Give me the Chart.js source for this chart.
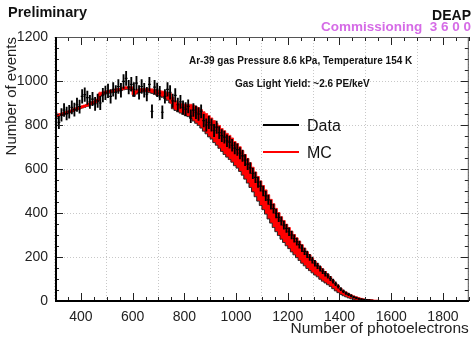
<!DOCTYPE html>
<html lang="en">
<head>
<meta charset="utf-8">
<title>Ar-39 gas photoelectron spectrum</title>
<script src="https://cdn.jsdelivr.net/npm/chart.js"></script>
<style>
    body { margin: 0; background: #fff; }
    #wrap { position: relative; width: 474px; height: 338px; font-family: "Liberation Sans", Arial, sans-serif; }
    .txt { position: absolute; white-space: nowrap; line-height: 1; }
    .key { position: absolute; height: 2px; width: 36px; }
</style>
</head>
<body>
<div id="wrap">
    <canvas id="spec" width="474" height="338"></canvas>
    <div class="txt" style="left:8px; top:5px; font-size:14.5px; font-weight:bold; color:#111;">Preliminary</div>
    <div class="txt" style="right:3px; top:8px; font-size:14px; font-weight:bold; color:#111;">DEAP</div>
    <div class="txt" style="right:3px; top:20px; font-size:13.5px; font-weight:bold; color:#d56be6;">Commissioning&nbsp; 3 6 0 0</div>
    <div class="txt" style="left:189px; top:56px; font-size:10px; font-weight:bold; color:#111;">Ar-39 gas Pressure 8.6 kPa, Temperature 154 K</div>
    <div class="txt" style="left:235px; top:79px; font-size:10px; font-weight:bold; color:#111;">Gas Light Yield: ~2.6 PE/keV</div>
    <div class="key" style="left:263px; top:124px; background:#000;"></div>
    <div class="txt" style="left:307px; top:118px; font-size:16px; color:#111;">Data</div>
    <div class="key" style="left:263px; top:151px; background:#f00;"></div>
    <div class="txt" style="left:307px; top:145px; font-size:16px; color:#111;">MC</div>
</div>
<script>
    // 10 PE bins starting at 300 PE
    const binStart = 300;
    const binWidth = 10;

    // measured counts per bin, 300 .. 1900 PE
    const dataCounts = [
        830, 812, 846, 868, 852, 860, 880, 870, 892, 884,
        930, 938, 924, 905, 918, 896, 910, 900, 936, 946,
        955, 930, 962, 948, 975, 958, 998, 1012, 972, 985,
        962, 990, 948, 975, 958, 940, 985, 862, 972, 960,
        945, 858, 930, 962, 948, 910, 935, 892, 905, 880,
        872, 885, 840, 868, 858, 850, 862, 820, 800, 812,
        800, 775, 790, 765, 752, 745, 728, 722, 708, 695,
        688, 672, 660, 640, 622, 605, 580, 562, 540, 522,
        500, 478, 460, 438, 420, 398, 380, 364, 345, 330,
        315, 300, 284, 270, 256, 240, 226, 212, 198, 186,
        172, 160, 148, 136, 124, 114, 102, 90, 78, 66,
        54, 44, 36, 30, 24, 18, 14, 10, 8, 6,
        5, 4, 3, 2, 2, 1, 1, 1, 0, 1,
        0, 1, 0, 0, 1, 0, 0, 0, 1, 0,
        0, 0, 1, 0, 0, 0, 0, 1, 0, 0,
        0, 0, 0, 1, 0, 0, 0, 0, 0, 0
    ];

    // simulated spectrum, same binning, 300 .. 1570 PE
    const mcCounts = [
        842, 846, 848, 852, 856, 860, 864, 870, 874, 878,
        882, 886, 890, 895, 900, 905, 912, 940, 944, 948,
        950, 952, 955, 958, 960, 962, 966, 968, 968, 966,
        942, 950, 956, 958, 958, 958, 956, 954, 950, 946,
        944, 940, 936, 930, 922, 900, 888, 880, 876, 872,
        868, 866, 862, 854, 846, 838, 828, 816, 806, 794,
        784, 770, 758, 746, 732, 720, 708, 698, 686, 670,
        660, 645, 628, 610, 592, 572, 552, 530, 510, 490,
        470, 450, 428, 408, 388, 368, 350, 332, 316, 300,
        286, 270, 256, 242, 228, 214, 200, 186, 174, 162,
        150, 140, 128, 118, 108, 98, 88, 76, 64, 54,
        44, 36, 30, 24, 19, 15, 12, 9, 7, 5,
        4, 3, 2, 1, 1, 0, 0
    ];

    // systematic half-width of the MC band per bin
    const mcErr = [
        5, 5, 5, 5, 5, 5, 5, 5, 5, 5,
        5, 5, 5, 5, 6, 6, 6, 9, 6, 6,
        6, 6, 6, 6, 6, 6, 6, 6, 6, 8,
        12, 9, 8, 8, 8, 8, 9, 10, 11, 12,
        13, 14, 16, 18, 22, 26, 22, 20, 22, 24,
        26, 28, 32, 36, 38, 40, 42, 44, 46, 48,
        48, 50, 50, 52, 52, 54, 54, 55, 55, 55,
        56, 56, 56, 56, 56, 56, 56, 56, 56, 56,
        55, 55, 55, 54, 54, 53, 52, 51, 50, 49,
        48, 47, 46, 45, 44, 42, 40, 38, 36, 34,
        32, 30, 29, 28, 26, 24, 22, 20, 18, 16,
        14, 12, 11, 10, 9, 8, 7, 6, 5, 4,
        3, 3, 2, 1, 1, 0, 0
    ];

    const xTicks = [400, 600, 800, 1000, 1200, 1400, 1600, 1800];
    const yTicks = [0, 200, 400, 600, 800, 1000, 1200];

    const center = i => binStart + binWidth * (i + 0.5);
    const dataPts = dataCounts.map((v, i) => ({x: center(i), y: v}));
    const dataErr = dataCounts.map((v, i) => ({x: center(i), y: [v - Math.sqrt(v), v + Math.sqrt(v)]}));
    const mcPts = mcCounts.map((v, i) => ({x: center(i), y: v}));
    const mcHi = mcCounts.map((v, i) => ({x: center(i), y: v + mcErr[i]}));
    const mcLo = mcCounts.map((v, i) => ({x: center(i), y: Math.max(0, v - mcErr[i])}));

    // ROOT style frame: box around the pad plus inward major/minor ticks
    const frameTicks = {
        id: 'frameTicks',
        afterDraw(chart) {
            const {ctx, chartArea: a, scales: {x, y}} = chart;
            ctx.save();
            ctx.strokeStyle = '#222';
            ctx.lineWidth = 1;
            ctx.beginPath();
            for (let v = 300; v <= 1900; v += 50) {
                const px = Math.round(x.getPixelForValue(v)) + 0.5;
                const len = v % 200 === 0 ? 8 : 4;
                ctx.moveTo(px, a.bottom); ctx.lineTo(px, a.bottom - len);
                ctx.moveTo(px, a.top); ctx.lineTo(px, a.top + len);
            }
            for (let v = 0; v <= 1200; v += 50) {
                const py = Math.round(y.getPixelForValue(v)) + 0.5;
                const len = v % 200 === 0 ? 8 : 4;
                ctx.moveTo(a.left, py); ctx.lineTo(a.left + len, py);
                ctx.moveTo(a.right, py); ctx.lineTo(a.right - len, py);
            }
            ctx.stroke();
            ctx.strokeStyle = '#555';
            ctx.strokeRect(a.left + 0.5, a.top + 0.5, a.right - a.left - 1, a.bottom - a.top - 1);
            ctx.strokeStyle = '#000';
            ctx.lineWidth = 2;
            ctx.beginPath();
            ctx.moveTo(a.left + 1, a.top); ctx.lineTo(a.left + 1, a.bottom);
            ctx.lineTo(a.right, a.bottom);
            ctx.stroke();
            ctx.restore();
        }
    };

    const plain = v => String(v);

    new Chart(document.getElementById('spec'), {
        type: 'line',
        data: {
            datasets: [
                {
                    type: 'bar',
                    data: dataErr,
                    backgroundColor: '#000',
                    borderWidth: 0,
                    barThickness: 1.2,
                    grouped: false,
                    order: 0
                },
                {
                    data: dataPts,
                    showLine: false,
                    pointStyle: 'line',
                    pointRadius: 1.4,
                    pointBorderWidth: 1.2,
                    pointBorderColor: '#000',
                    order: 1
                },
                {
                    data: mcPts,
                    stepped: 'middle',
                    borderColor: '#ff0000',
                    borderWidth: 2,
                    pointRadius: 0,
                    fill: false,
                    order: 2
                },
                {
                    data: mcHi,
                    stepped: 'middle',
                    borderColor: '#ff2020',
                    borderWidth: 1,
                    pointRadius: 0,
                    fill: false,
                    order: 3
                },
                {
                    data: mcLo,
                    stepped: 'middle',
                    borderColor: '#222',
                    borderWidth: 1,
                    pointRadius: 0,
                    backgroundColor: '#ff0000',
                    fill: '-1',
                    order: 3
                }
            ]
        },
        options: {
            responsive: false,
            animation: false,
            events: [],
            layout: {padding: {top: 37, right: 3, left: 0, bottom: 0}},
            plugins: {legend: {display: false}, tooltip: {enabled: false}},
            scales: {
                x: {
                    type: 'linear',
                    min: 300,
                    max: 1900,
                    offset: false,
                    afterBuildTicks: s => { s.ticks = xTicks.map(v => ({value: v})); },
                    afterFit: s => { s.height = 37; },
                    grid: {color: '#c8c8c8', drawTicks: false},
                    border: {display: false, dash: [1, 2]},
                    ticks: {
                        font: {family: 'Liberation Sans', size: 14},
                        color: '#222',
                        padding: 8,
                        maxRotation: 0,
                        callback: plain
                    },
                    title: {
                        display: true,
                        text: 'Number of photoelectrons',
                        align: 'end',
                        font: {family: 'Liberation Sans', size: 15.5},
                        color: '#222',
                        padding: {top: 0, bottom: 0}
                    }
                },
                y: {
                    min: 0,
                    max: 1200,
                    afterBuildTicks: s => { s.ticks = yTicks.map(v => ({value: v})); },
                    afterFit: s => { s.width = 55; },
                    grid: {color: '#c8c8c8', drawTicks: false},
                    border: {display: false, dash: [1, 2]},
                    ticks: {
                        font: {family: 'Liberation Sans', size: 14},
                        color: '#222',
                        padding: 7,
                        callback: plain
                    },
                    title: {
                        display: true,
                        text: 'Number of events',
                        align: 'end',
                        font: {family: 'Liberation Sans', size: 15},
                        color: '#222',
                        padding: {top: 3, bottom: 0}
                    }
                }
            }
        },
        plugins: [frameTicks]
    });
</script>
</body>
</html>
